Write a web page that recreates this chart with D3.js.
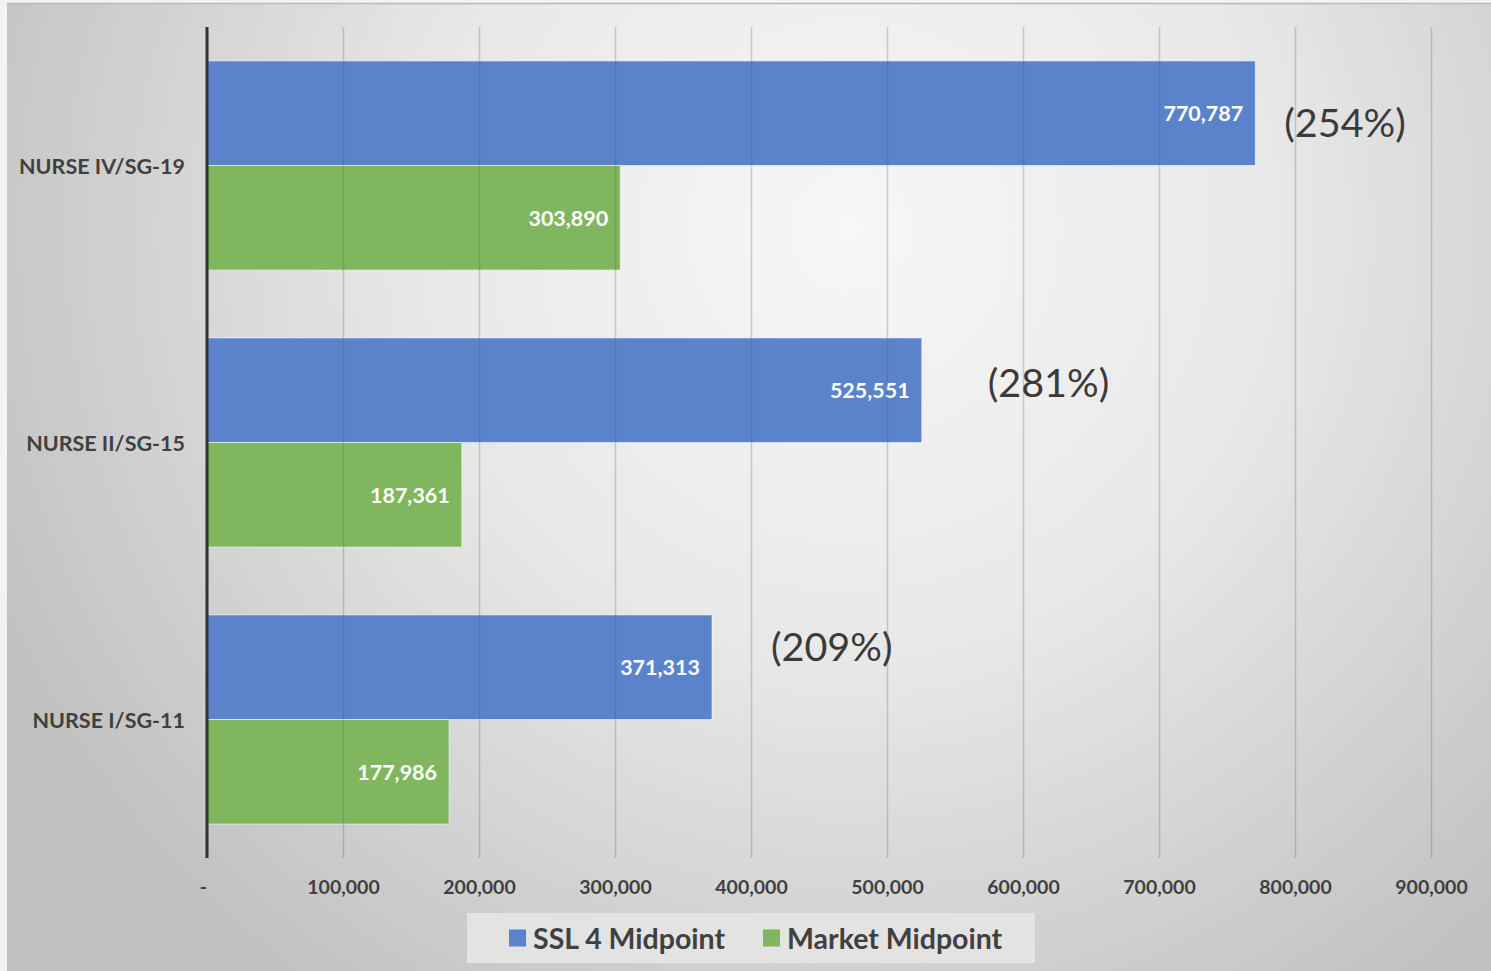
<!DOCTYPE html>
<html>
<head>
<meta charset="utf-8">
<script src="https://cdn.jsdelivr.net/npm/d3@7"></script>
<style>
  html, body { margin: 0; padding: 0; background: #f3f3f3; }
  svg { display: block; }
  text { font-family: Lato, "Open Sans", sans-serif; }
</style>
</head>
<body>
<svg id="chart" width="1491" height="971"></svg>
<script>
// Salary grades and midpoint values
const categories = ["NURSE IV/SG-19", "NURSE II/SG-15", "NURSE I/SG-11"];
const seriesNames = ["SSL 4 Midpoint", "Market Midpoint"];
const ssl4Midpoint = [770787, 525551, 371313];
const marketMidpoint = [303890, 187361, 177986];
const ratioLabels = ["(254%)", "(281%)", "(209%)"];
const xTickValues = [0, 100000, 200000, 300000, 400000, 500000, 600000, 700000, 800000, 900000];
const xTickLabels = ["-", "100,000", "200,000", "300,000", "400,000", "500,000", "600,000", "700,000", "800,000", "900,000"];

const colors = { "SSL 4 Midpoint": "#5b83cb", "Market Midpoint": "#80b65e" };
const textDark = "#404040";

const svg = d3.select("#chart");
const W = 1491, H = 971;

// background panel with radial shading
const defs = svg.append("defs");
const grad = defs.append("radialGradient")
  .attr("id", "bg")
  .attr("gradientUnits", "userSpaceOnUse")
  .attr("cx", 850).attr("cy", 230).attr("r", 950)
  .attr("fx", 850).attr("fy", 230);
grad.append("stop").attr("offset", "0%").attr("stop-color", "#f7f7f7");
grad.append("stop").attr("offset", "45%").attr("stop-color", "#e8e8e8");
grad.append("stop").attr("offset", "100%").attr("stop-color", "#c0c0c0");

svg.append("rect").attr("x", 0).attr("y", 0).attr("width", W).attr("height", H).attr("fill", "#f3f3f3");
svg.append("rect").attr("x", 7).attr("y", 4).attr("width", W - 7).attr("height", H - 4).attr("fill", "url(#bg)");
svg.append("line").attr("x1", 7).attr("x2", W).attr("y1", 3.5).attr("y2", 3.5)
  .attr("stroke", "#b8b8b8").attr("stroke-width", 1.5);

// scales
const plotTop = 27, plotBottom = 858;
const x = d3.scaleLinear().domain([0, 900000]).range([207, 1431]);
const y = d3.scaleBand().domain(categories).range([plotTop, plotBottom])
  .paddingInner(0.245).paddingOuter(0.1225);
const ySub = d3.scaleBand().domain(seriesNames).range([0, y.bandwidth()]);

const rows = categories.map((c, i) => ({
  category: c,
  ratio: ratioLabels[i],
  values: [
    { series: seriesNames[0], value: ssl4Midpoint[i] },
    { series: seriesNames[1], value: marketMidpoint[i] }
  ]
}));

// bars
const groups = svg.append("g").selectAll("g.cat")
  .data(rows).join("g")
  .attr("class", "cat")
  .attr("transform", d => `translate(0,${y(d.category)})`);

groups.selectAll("rect")
  .data(d => d.values).join("rect")
  .attr("x", x(0))
  .attr("y", d => ySub(d.series))
  .attr("width", d => x(d.value) - x(0))
  .attr("height", ySub.bandwidth())
  .attr("fill", d => colors[d.series])
  .attr("stroke", "rgba(255,255,255,0.55)")
  .attr("stroke-width", 1);

// vertical gridlines, drawn over the bars so they show through
const xAxis = d3.axisBottom(x)
  .tickValues(xTickValues)
  .tickFormat((d, i) => xTickLabels[i])
  .tickSize(plotBottom - plotTop)
  .tickPadding(26);

const axisG = svg.append("g")
  .attr("transform", `translate(0,${plotTop})`)
  .call(xAxis);
axisG.select(".domain").remove();
axisG.selectAll(".tick line")
  .attr("stroke", "rgba(90,90,90,0.26)")
  .attr("stroke-width", 1.5);
axisG.selectAll(".tick text")
  .attr("fill", textDark)
  .attr("font-size", 19.5)
  .attr("font-weight", 700)
  .attr("dy", "0.5em");
axisG.selectAll(".tick").filter(d => d === 0).select("text").attr("dx", -4);

// category axis line
svg.append("line")
  .attr("x1", x(0)).attr("x2", x(0))
  .attr("y1", plotTop).attr("y2", plotBottom)
  .attr("stroke", "#333333").attr("stroke-width", 3);

// category labels
svg.append("g").selectAll("text")
  .data(categories).join("text")
  .attr("x", 185)
  .attr("y", d => y(d) + y.bandwidth() / 2)
  .attr("text-anchor", "end")
  .attr("dominant-baseline", "central")
  .attr("fill", textDark)
  .attr("font-size", 21.5)
  .attr("font-weight", 700)
  .text(d => d);

// value labels inside bar ends
groups.selectAll("text.val")
  .data(d => d.values).join("text")
  .attr("class", "val")
  .attr("x", d => x(d.value) - 12)
  .attr("y", d => ySub(d.series) + ySub.bandwidth() / 2)
  .attr("text-anchor", "end")
  .attr("dominant-baseline", "central")
  .attr("fill", "#ffffff")
  .attr("font-size", 21.5)
  .attr("font-weight", 700)
  .text(d => d3.format(",")(d.value));

// ratio annotations beside the SSL 4 bars
const ratioOffsets = [{ dx: 29, dy: 8 }, { dx: 66, dy: -9 }, { dx: 59, dy: -22 }];
groups.append("text")
  .attr("x", (d, i) => x(d.values[0].value) + ratioOffsets[i].dx)
  .attr("y", (d, i) => ySub(seriesNames[0]) + ySub.bandwidth() / 2 + ratioOffsets[i].dy)
  .attr("dominant-baseline", "central")
  .attr("fill", "#3a3a3a")
  .attr("font-size", 39.5)
  .attr("font-weight", 400)
  .text(d => d.ratio);

// legend
const legend = svg.append("g");
legend.append("rect")
  .attr("x", 467).attr("y", 913).attr("width", 568).attr("height", 50)
  .attr("fill", "#e3e3e3");
const legendItems = [{ name: seriesNames[0], x: 509 }, { name: seriesNames[1], x: 763 }];
const li = legend.selectAll("g.item").data(legendItems).join("g")
  .attr("class", "item")
  .attr("transform", d => `translate(${d.x},938)`);
li.append("rect")
  .attr("x", 0).attr("y", -8.5).attr("width", 17).attr("height", 17)
  .attr("fill", d => colors[d.name]);
li.append("text")
  .attr("x", 24).attr("y", 0)
  .attr("dominant-baseline", "central")
  .attr("fill", textDark)
  .attr("font-size", 28.5)
  .attr("font-weight", 700)
  .text(d => d.name);
</script>
</body>
</html>
